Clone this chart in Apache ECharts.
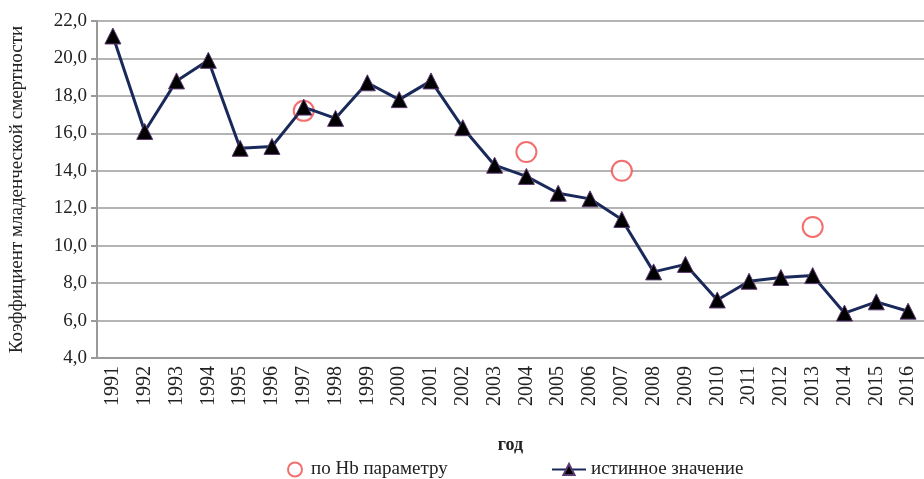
<!DOCTYPE html>
<html>
<head>
<meta charset="utf-8">
<script src="https://cdn.jsdelivr.net/npm/echarts@6/dist/echarts.min.js"></script>
<style>
  html, body { margin: 0; padding: 0; background: #fff; }
  #chart { width: 924px; height: 479px; }
</style>
</head>
<body>
<div id="chart"></div>
<script>
// годы и значения
var years = ['1991','1992','1993','1994','1995','1996','1997','1998','1999','2000','2001','2002','2003',
             '2004','2005','2006','2007','2008','2009','2010','2011','2012','2013','2014','2015','2016'];
var trueValues = [21.2, 16.1, 18.8, 19.9, 15.2, 15.3, 17.4, 16.8, 18.7, 17.8, 18.8, 16.3, 14.3,
                  13.7, 12.8, 12.5, 11.4, 8.6, 9.0, 7.1, 8.1, 8.3, 8.4, 6.4, 7.0, 6.5];
// прогноз по Hb (только отдельные годы)
var hbValues = [null, null, null, null, null, null, 17.2, null, null, null, null, null, null,
                15.0, null, null, 14.0, null, null, null, null, null, 11.0, null, null, null];
var yTicks = { min: 4, max: 22, step: 2 };

var serif = 'Liberation Serif';
var chart = echarts.init(document.getElementById('chart'));

var legendText = { fontFamily: serif, fontSize: 19, color: '#222' };

chart.setOption({
  animation: false,
  textStyle: { fontFamily: serif },
  grid: { left: 96, top: 21, width: 837, height: 337, containLabel: false },
  legend: [
    { left: 282, top: 455, itemWidth: 22, itemHeight: 14, itemGap: 4,
      textStyle: legendText, data: ['по Hb параметру'] },
    { left: 546, top: 455, itemWidth: 34, itemHeight: 14, itemGap: 4,
      textStyle: legendText, data: ['истинное значение'] }
  ],
  xAxis: {
    type: 'category',
    data: years,
    boundaryGap: true,
    name: 'год',
    nameLocation: 'middle',
    nameGap: 78,
    nameTextStyle: { fontFamily: serif, fontSize: 18, fontWeight: 'bold', color: '#222' },
    axisLine: { lineStyle: { color: '#9a9a9a', width: 2 } },
    axisTick: { interval: 0, length: 7, lineStyle: { color: '#9a9a9a', width: 2 } },
    axisLabel: { interval: 0, rotate: 90, margin: 8, fontFamily: serif, fontSize: 20, color: '#222' }
  },
  yAxis: {
    type: 'value',
    min: yTicks.min,
    max: yTicks.max,
    interval: yTicks.step,
    name: 'Коэффициент младенческой смертности',
    nameLocation: 'middle',
    nameRotate: 90,
    nameGap: 70,
    nameTextStyle: { fontFamily: serif, fontSize: 19, color: '#222' },
    axisLine: { show: true, lineStyle: { color: '#9a9a9a', width: 2 } },
    axisTick: { show: true, length: 6, lineStyle: { color: '#9a9a9a', width: 2 } },
    axisLabel: {
      margin: 10, fontFamily: serif, fontSize: 19, color: '#222',
      formatter: function (v) { return v.toFixed(1).replace('.', ','); }
    },
    splitLine: { lineStyle: { color: '#b4b4b4', width: 2 } }
  },
  series: [
    {
      name: 'по Hb параметру',
      type: 'scatter',
      data: hbValues,
      symbol: 'emptyCircle',
      symbolSize: 20,
      itemStyle: { color: '#f04a4a', borderColor: '#f04a4a', borderWidth: 1.5 },
      z: 3
    },
    {
      name: 'истинное значение',
      type: 'line',
      data: trueValues,
      symbol: 'triangle',
      symbolSize: 16,
      showAllSymbol: true,
      lineStyle: { color: '#19295a', width: 3 },
      itemStyle: { color: '#000', borderColor: '#5a3a70', borderWidth: 1 },
      z: 4
    }
  ]
});
</script>
</body>
</html>
